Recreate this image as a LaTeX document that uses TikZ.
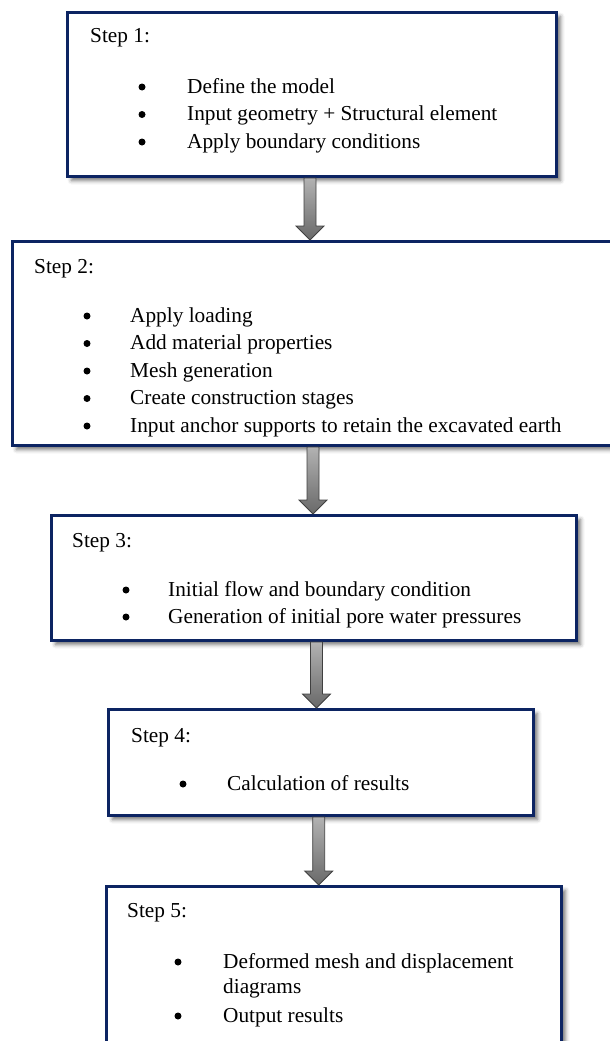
\documentclass[tikz,border=0pt]{standalone}
\usepackage{fontspec}
\setmainfont{Liberation Serif}
\usetikzlibrary{calc,shadows.blur}
\definecolor{navy}{RGB}{12,36,98}
\definecolor{arrowlight}{RGB}{178,178,178}
\definecolor{arrowdark}{RGB}{105,105,105}
\tikzset{
  stepbox/.style={draw=navy, line width=3pt, fill=white, anchor=north west, inner sep=0pt,
    blur shadow={shadow xshift=4pt, shadow yshift=-4pt, shadow blur radius=4pt, shadow opacity=55}},
  txt/.style={anchor=base west, inner sep=0pt, font=\fontsize{21.3}{27.5}\selectfont},
  bul/.style={circle, fill=black, inner sep=0pt, minimum size=7pt, yshift=6pt},
  blockarr/.style={draw=black!75, line width=0.8pt, top color=arrowlight, bottom color=arrowdark},
}
\newcommand\blockarrow[2]{%
  \path[blockarr] let \p1=(#1), \p2=(#2) in
   (\x1-6pt,\y1) -- (\x1+6pt,\y1) -- (\x1+6pt,\y2+14pt) -- (\x1+14pt,\y2+14pt)
   -- (\x1,\y2) -- (\x1-14pt,\y2+14pt) -- (\x1-6pt,\y2+14pt) -- cycle;}
\begin{document}
\begin{tikzpicture}[x=1pt,y=-1pt]
\useasboundingbox (0,0) rectangle (610,1041);
\clip (0,0) rectangle (610,1041);

% boxes
\node[stepbox, minimum width=489pt, minimum height=164pt] (b1) at (66,11) {};
\node[stepbox, minimum width=616pt, minimum height=204pt] (b2) at (11,240) {};
\node[stepbox, minimum width=525pt, minimum height=125pt] (b3) at (50,514) {};
\node[stepbox, minimum width=425pt, minimum height=106pt] (b4) at (107,708) {};
\node[stepbox, minimum width=455pt, minimum height=200pt] (b5) at (105,885) {};

% step 1
\node[txt] (s1) at (90,43) {Step 1:};
\node[bul] (s1b1) at (142,93) {};
\node[txt] (s1i1) at (187,93) {Define the model};
\node[bul] (s1b2) at (142,120.5) {};
\node[txt] (s1i2) at (187,120.5) {Input geometry + Structural element};
\node[bul] (s1b3) at (142,148) {};
\node[txt] (s1i3) at (187,148) {Apply boundary conditions};

% step 2
\node[txt] (s2) at (34,273) {Step 2:};
\node[bul] (s2b1) at (87,322) {};
\node[txt] (s2i1) at (130,322) {Apply loading};
\node[bul] (s2b2) at (87,349.5) {};
\node[txt] (s2i2) at (130,349.5) {Add material properties};
\node[bul] (s2b3) at (87,377) {};
\node[txt] (s2i3) at (130,377) {Mesh generation};
\node[bul] (s2b4) at (87,404.5) {};
\node[txt] (s2i4) at (130,404.5) {Create construction stages};
\node[bul] (s2b5) at (87,432) {};
\node[txt] (s2i5) at (130,432) {Input anchor supports to retain the excavated earth};

% step 3
\node[txt] (s3) at (72,547) {Step 3:};
\node[bul] (s3b1) at (126,596) {};
\node[txt] (s3i1) at (168,596) {Initial flow and boundary condition};
\node[bul] (s3b2) at (126,623) {};
\node[txt] (s3i2) at (168,623) {Generation of initial pore water pressures};

% step 4
\node[txt] (s4) at (131,742) {Step 4:};
\node[bul] (s4b1) at (183,790) {};
\node[txt] (s4i1) at (227,790) {Calculation of results};

% step 5
\node[txt] (s5) at (127,917) {Step 5:};
\node[bul] (s5b1) at (178,968) {};
\node[txt] (s5i1) at (223,968) {Deformed mesh and displacement};
\node[txt] (s5i1b) at (223,993) {diagrams};
\node[bul] (s5b2) at (178,1022) {};
\node[txt] (s5i2) at (223,1022) {Output results};

% arrows
\coordinate (ax1) at (310,0);
\coordinate (ax2) at (313,0);
\coordinate (ax3) at (316.5,0);
\coordinate (ax4) at (318.7,0);
\blockarrow{ax1 |- b1.south}{ax1 |- b2.north}
\blockarrow{ax2 |- b2.south}{ax2 |- b3.north}
\blockarrow{ax3 |- b3.south}{ax3 |- b4.north}
\blockarrow{ax4 |- b4.south}{ax4 |- b5.north}
\end{tikzpicture}
\end{document}
